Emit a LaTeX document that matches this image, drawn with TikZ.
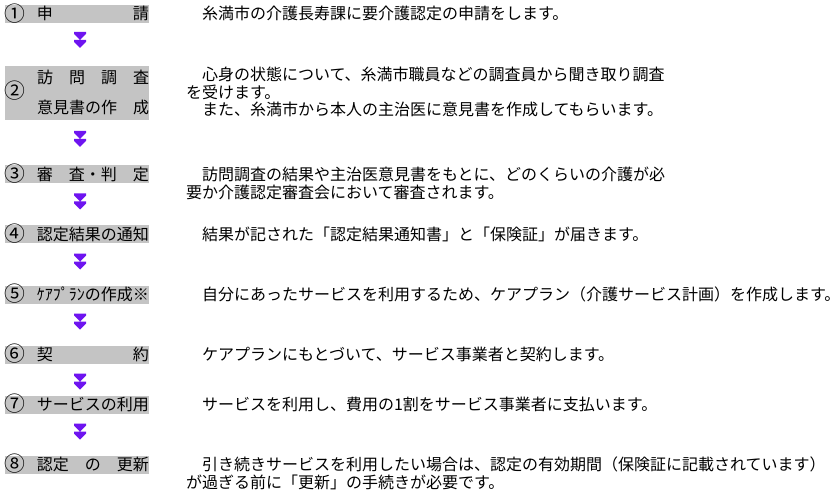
\documentclass[tikz,border=0pt]{standalone}
\usepackage{fontspec}
\setmainfont{Noto Sans CJK JP}
\usetikzlibrary{calc}
\definecolor{boxgray}{RGB}{196,196,196}
\definecolor{arrowc}{RGB}{110,20,240}
\newcommand\cnum[1]{\makebox[16pt][l]{\raisebox{-1.2pt}{\scalebox{1.3}{#1}}}}
\tikzset{
  every node/.style={inner sep=0pt, outer sep=0pt, font=\fontsize{16}{17.5}\selectfont, text=black},
  txt/.style={anchor=base west},
  stepbox/.style={anchor=base west, fill=boxgray, text height=15pt, text depth=3pt, minimum width=144pt},
  bigbox/.style={anchor=north west, fill=boxgray, minimum width=144pt, minimum height=54pt},
  dblarr/.pic={
    \fill[arrowc] (-6,0) -- (6,0) -- (6,2) -- (0,8) -- (-6,2) -- cycle
                  (-6,8) -- (6,8) -- (6,10) -- (0,16) -- (-6,10) -- cycle;
  }
}
\begin{document}
\begin{tikzpicture}[x=1pt,y=-1pt]
\useasboundingbox[fill=white] (0,0) rectangle (837,494);

% left step boxes
\node[stepbox] (b1) at (5,20) {\cnum{①}　申　　　　　請};
\node[bigbox] (b2) at (5,66) {};
\node[txt] (b2n) at (5,97) {\cnum{②}};
\node[txt] (b2a) at (37,84) {訪　問　調　査};
\node[txt] (b2b) at (37,114) {意見書の作　成};
\node[stepbox] (b3) at (5,180.5) {\cnum{③}　審　査・判　定};
\node[stepbox] (b4) at (5,240.5) {\cnum{④}　認定結果の通知};
\node[stepbox] (b5) at (5,300.5) {\cnum{⑤}　ｹｱﾌﾟﾗﾝの作成※};
\node[stepbox] (b6) at (5,360.5) {\cnum{⑥}　契　　　　　約};
\node[stepbox] (b7) at (5,410.5) {\cnum{⑦}　サービスの利用};
\node[stepbox] (b8) at (5,470.5) {\cnum{⑧}　認定　の　更新};

% arrows between the steps
\coordinate (a1) at ($(b1.south)+(3,9)$);
\coordinate (a2) at ($(b2.south)+(3,11)$);
\coordinate (a3) at ($(b3.south)+(3,10)$);
\coordinate (a4) at ($(b4.south)+(3,10)$);
\coordinate (a5) at ($(b5.south)+(3,10)$);
\coordinate (a6) at ($(b6.south)+(3,10)$);
\coordinate (a7) at ($(b7.south)+(3,10)$);
\foreach \a in {a1,a2,a3,a4,a5,a6,a7} { \pic at (\a) {dblarr}; }

% descriptions
\node[txt] (t1) at (186,20) {　糸満市の介護長寿課に要介護認定の申請をします。};
\node[txt] (t2a) at (186,81) {　心身の状態について、糸満市職員などの調査員から聞き取り調査};
\node[txt] (t2b) at (186,98.5) {を受けます。};
\node[txt] (t2c) at (186,116) {　また、糸満市から本人の主治医に意見書を作成してもらいます。};
\node[txt] (t3a) at (186,181) {　訪問調査の結果や主治医意見書をもとに、どのくらいの介護が必};
\node[txt] (t3b) at (186,198.5) {要か介護認定審査会において審査されます。};
\node[txt] (t4) at (186,240.5) {　結果が記された「認定結果通知書」と「保険証」が届きます。};
\node[txt] (t5) at (186,300.5) {　自分にあったサービスを利用するため、ケアプラン（介護サービス計画）を作成します。};
\node[txt] (t6) at (186,360.5) {　ケアプランにもとづいて、サービス事業者と契約します。};
\node[txt] (t7) at (186,410.5) {　サービスを利用し、費用の1割をサービス事業者に支払います。};
\node[txt] (t8a) at (186,470.5) {　引き続きサービスを利用したい場合は、認定の有効期間（保険証に記載されています）};
\node[txt] (t8b) at (186,488) {が過ぎる前に「更新」の手続きが必要です。};
\end{tikzpicture}
\end{document}
